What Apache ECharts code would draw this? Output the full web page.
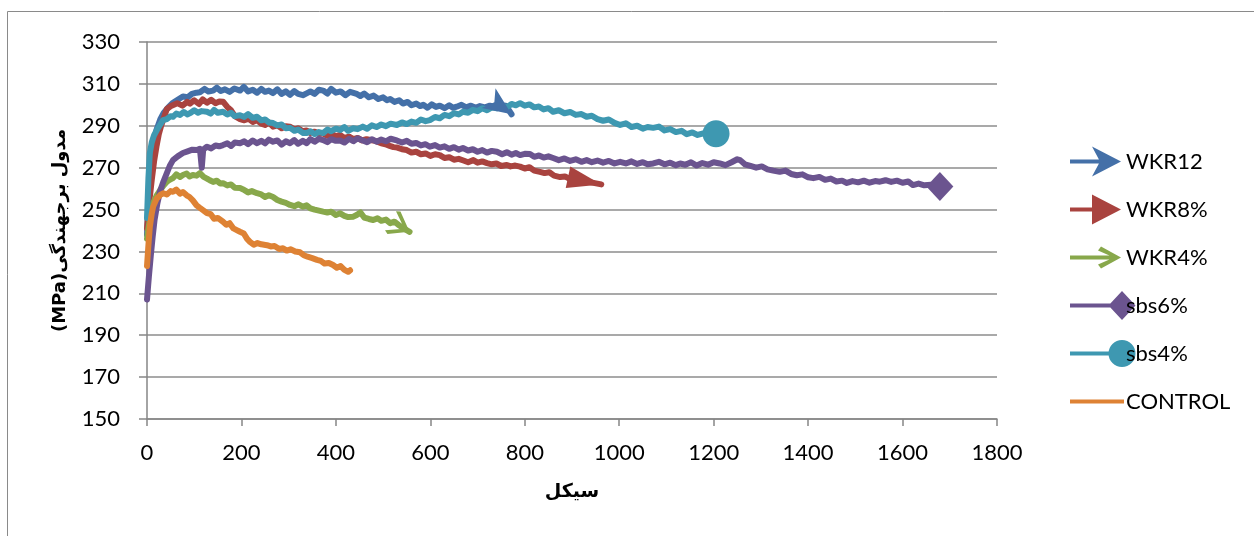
<!DOCTYPE html>
<html><head><meta charset="utf-8">
<script src="https://cdn.jsdelivr.net/npm/echarts@6/dist/echarts.min.js"></script>
<style>html,body{margin:0;padding:0;background:#fff}#c{width:1254px;height:536px}</style>
</head><body><div id="c"></div>
<script>
const seriesNames = ['WKR12', 'WKR8%', 'WKR4%', 'sbs6%', 'sbs4%', 'CONTROL'];
const xTickLabels = ['0','200','400','600','800','1000','1200','1400','1600','1800'];
const yTickLabels = ['150','170','190','210','230','250','270','290','310','330'];
const xTitle = 'سیکل';
const yTitle = '(MPa)مدول برجهندگی';

const wkr12 = [[0,238],[4,258],[8,272],[14,282],[20,288],[28,293],[35,296],[45,298.8],[55,301],[65,302.4],[76,304],[86,303.6],[95,305.2],[105,305.8],[112,306],[122,307.6],[130,306.4],[140,306.8],[148,308.2],[156,306.6],[165,307.4],[175,306.2],[185,307.8],[197,306.8],[205,308.6],[214,306.4],[224,307.2],[233,305.8],[242,307.6],[250,306.2],[258,306.8],[267,305.6],[276,307.4],[285,305.2],[294,306.4],[303,304.8],[312,306.6],[320,305.2],[330,304.6],[338,305.5],[346,306.4],[355,305.2],[364,307.2],[373,306.8],[382,305.4],[390,307.6],[400,305.8],[410,306.4],[420,304.6],[430,306.2],[444,305.2],[452,304.2],[460,305.4],[470,303.6],[480,304.4],[490,302.8],[500,303.6],[508,302.2],[515,302.8],[524,301.4],[534,302.2],[542,300.6],[552,301.4],[560,299.8],[570,300.6],[578,299.4],[585,300],[594,298.6],[603,300.2],[612,299],[620,299.6],[630,298.4],[640,299.8],[648,298.6],[656,299.1],[666,300],[676,298.8],[686,299.6],[696,298.6],[705,299.4],[716,298.8],[726,299.6],[736,299],[748,299.8],[760,299.6],[772,295.5]];

const wkr8 = [[0,241],[4,252],[10,264],[15,273],[20,280],[25,286],[30,290],[36,294],[42,298],[52,299.6],[64,300.8],[75,299.6],[85,301.4],[91,300.6],[100,302.2],[110,300.4],[118,302.6],[127,301],[136,302.4],[145,300.8],[153,301.6],[161,301.5],[170,299],[178,297.4],[186,294.6],[197,293.2],[206,292.6],[215,293.4],[224,291.8],[233,292.7],[242,291],[250,290.4],[258,291.6],[267,289.6],[276,290.2],[285,288.8],[294,289.8],[303,289.6],[312,288.2],[320,288.8],[330,287.4],[338,287.8],[346,286.6],[355,287.2],[364,286],[373,286.4],[382,285.2],[390,286.2],[400,285],[409,285.6],[418,284.2],[428,284.8],[437,283.6],[446,284.2],[455,283],[465,283.6],[479,283],[488,282.4],[496,281.6],[505,281.2],[514,280.4],[522,279.8],[530,279.6],[540,278.8],[550,278.4],[560,277.2],[570,277.6],[580,276.4],[590,276.8],[600,275.6],[610,276.4],[620,276],[630,274.6],[640,275],[650,273.8],[660,274.2],[670,273.4],[680,272.6],[691,273.6],[700,272.4],[710,273],[720,272.2],[730,271.6],[740,272],[750,270.8],[762,271.3],[770,270.6],[780,271],[790,270.5],[800,269.6],[810,270.2],[820,268.6],[832,268],[842,267.4],[852,267.8],[862,266.2],[875,265.5],[885,265.8],[895,264.6],[910,264.2],[925,263.6],[940,263],[962,262]];

const wkr4 = [[0,236],[3,241],[6,245],[10,250],[13,253],[20,256.5],[28,259.3],[35,261.5],[42,263.3],[48,264.2],[55,265],[62,266.8],[70,265.6],[76,266.5],[84,267.2],[90,265.8],[97,266.5],[105,266.2],[112,267.4],[120,265.6],[127,264.8],[133,264],[140,263.2],[148,263.8],[155,262.4],[161,262.6],[170,261.5],[178,262],[186,260.4],[197,260.3],[205,259.5],[214,258.2],[222,258.8],[233,257.8],[242,257.2],[250,256],[258,256.8],[267,256],[276,254.6],[285,253.8],[294,253.2],[303,252.2],[312,251.6],[320,252.5],[330,251.4],[338,252],[346,250.6],[355,250],[364,249.5],[373,249],[382,248.6],[390,249],[400,247.4],[409,248.2],[418,247],[426,246.4],[437,246.6],[444,247.4],[452,248.6],[460,246.2],[470,245.5],[479,245],[488,245.8],[496,244.6],[506,245.2],[515,243.5],[524,244.2],[532,242.8],[540,241.6],[548,240.4],[556,239.4]];

const sbs6 = [[0,207],[4,218],[8,228],[12,237],[16,245],[22,253],[28,259],[35,263.5],[42,267.4],[48,270.8],[55,273.6],[65,275.4],[76,277],[86,277.8],[96,278.6],[106,278.4],[112,279],[116,270],[119,278.6],[127,280],[136,279.2],[145,280.6],[153,280.2],[161,280.8],[170,281.6],[178,280.4],[186,282],[197,281.7],[206,282.6],[214,281.2],[224,283],[233,281.7],[242,282.8],[250,281.6],[258,283.4],[267,282.4],[276,283],[285,281],[294,282.6],[303,281.7],[312,283.2],[320,281.4],[330,282.8],[338,281.7],[346,283.6],[355,282.4],[364,283.8],[373,283.2],[382,282.2],[390,283.6],[400,282.8],[409,283],[418,282],[428,283.8],[437,282.6],[446,284],[457,283],[466,282.2],[476,283.6],[486,282.4],[496,283.4],[506,282.6],[516,283.8],[529,283],[540,282],[550,282.8],[560,281.4],[570,281.8],[580,280.6],[590,281.2],[599,280],[610,280.8],[620,279.6],[630,280.2],[640,279],[650,279.8],[660,278.6],[669,279.4],[680,278.2],[690,278.8],[700,277.6],[710,278.4],[720,277.2],[730,278],[741,277.6],[752,276.4],[762,277.4],[772,276.2],[781,277],[790,276],[800,276.6],[811,276.5],[820,275.2],[830,275.8],[840,274.8],[850,275.4],[860,274.6],[872,273.6],[884,274.4],[896,273.2],[908,274],[920,272.8],[931,273.6],[942,272.6],[954,273.4],[966,272.4],[978,273.2],[990,272],[1002,272.8],[1014,272],[1026,273],[1038,271.8],[1050,272.6],[1060,271.6],[1072,272],[1084,272.8],[1096,271.6],[1108,272.4],[1120,271.2],[1129,272],[1140,271.4],[1152,272.6],[1164,271],[1176,272.2],[1188,271.4],[1200,272.6],[1213,272],[1225,271.2],[1238,272.6],[1250,274],[1256,273.6],[1266,271.6],[1278,270.8],[1290,270],[1302,270.6],[1314,269.2],[1326,268.6],[1340,268],[1352,268.6],[1364,267],[1376,266.4],[1388,266.8],[1400,265.4],[1411,265],[1424,265.6],[1436,264.2],[1448,264.8],[1460,263.4],[1472,263.8],[1482,262.7],[1494,263.6],[1506,263],[1518,263.8],[1530,262.8],[1542,263.6],[1552,263.3],[1564,264],[1576,263.2],[1588,263.8],[1600,262.8],[1612,263.4],[1622,261.7],[1634,262.4],[1646,261.6],[1660,261.8],[1679,261]];

const sbs4 = [[0,246],[3,265],[6,277],[10,282],[15,285.5],[21,288],[28,290.6],[34,292.7],[42,293.2],[50,294.6],[55,294.3],[62,295.8],[70,295.2],[78,296.6],[86,295.4],[91,296],[100,297.4],[108,296.2],[116,297],[127,296.7],[135,295.8],[142,297.6],[150,296.2],[161,296.7],[170,295.4],[178,296.2],[186,294.6],[197,295],[206,294.2],[214,295.6],[224,293.8],[233,294.3],[242,292.6],[250,293],[258,291.6],[267,291.3],[276,290.2],[285,290.6],[294,288.8],[303,289],[312,287.6],[320,288.2],[330,286.6],[338,286.5],[346,287.4],[355,286],[364,287],[373,286.5],[382,288.2],[390,287.4],[400,288.6],[409,288],[418,289.4],[426,287.6],[436,288.8],[446,288.4],[457,289.6],[466,288.6],[476,290.2],[486,289.4],[496,290.6],[506,289.8],[516,291],[529,290.4],[540,291.6],[550,290.8],[560,292],[570,291.4],[580,293],[590,292.2],[599,292.7],[610,294.2],[620,293.6],[630,295.2],[640,294.6],[650,296],[660,295.4],[669,296.7],[680,296.2],[690,297.6],[700,297],[710,298.4],[720,297.4],[730,298.8],[741,298.3],[752,299.6],[762,298.8],[772,300.4],[781,299.8],[790,300.8],[800,299.6],[810,300.2],[820,298.8],[830,299.2],[840,297.8],[850,298.4],[860,296.7],[872,297.4],[884,296],[896,296.6],[908,295.2],[920,295.6],[931,294.3],[942,294.8],[954,293.2],[966,292.4],[978,293],[990,291.4],[1002,290.4],[1014,291.2],[1026,289.4],[1038,290],[1050,288.6],[1060,289.4],[1072,289],[1084,289.6],[1096,287.8],[1108,288.4],[1120,287],[1132,287.6],[1143,286],[1155,286.8],[1166,285.6],[1178,286.4],[1190,285.8],[1205,286.2]];

const control = [[0,223],[3,233],[6,241.8],[10,248],[13,251.4],[20,255],[28,257],[35,257.8],[42,257.2],[50,258.8],[55,258.5],[62,259.5],[70,257.6],[76,258.4],[84,256.8],[90,256],[97,254.4],[105,252],[112,250.8],[120,249.5],[127,248.3],[135,247.8],[142,245.6],[150,246],[161,244.2],[168,242.8],[175,243.5],[183,241],[190,240.2],[197,239.4],[205,238.6],[212,236],[218,234.6],[226,233.2],[234,234],[242,233.4],[254,233],[262,232.4],[270,232.6],[280,231.2],[288,231.5],[296,230.4],[304,231],[314,230],[324,229.6],[332,228.2],[340,227.5],[350,226.8],[360,226],[368,225.5],[376,224.2],[385,224.5],[394,223.5],[402,222.2],[410,223],[418,221.2],[426,220.3],[430,221]];

const seriesData = [wkr12, wkr8, wkr4, sbs6, sbs4, control];
const colors = ['#4470A8', '#A9433F', '#88A84B', '#6B548F', '#3E98B1', '#DE8234'];

// end markers: [symbol, width, height, downward angle]
const endMarkers = [
  ['path://M0,0L28,12L0,24L7,12Z', 28, 24, 35],
  ['path://M0,0L34,11L0,22Z', 34, 22, 12],
  ['path://M0,2L4,0L22,13L4,26L0,24L16,13Z', 22, 26, 30],
  ['diamond', 27, 29, null],
  ['circle', 27, 27, null],
  null
];

const anchors = 'M0,0L0.01,0L0,0.01Z M67,30L66.99,30L67,29.99Z ';
const legendIcons = [
  'path://' + anchors + 'M1,13L34,13L34,17L1,17Z M23,0L52,15L23,30L31,15Z',
  'path://' + anchors + 'M1,13L30,13L30,17L1,17Z M23,0L52,15L23,30Z',
  'path://' + anchors + 'M1,13L47,13L47,17L1,17Z M29,8L32,4L52,15L32,26L29,22L45,15Z',
  'path://' + anchors + 'M1,13L46,13L46,17L1,17Z M53,0.5L66.5,15L53,29.5L39.5,15Z',
  'path://' + anchors + 'M1,13L46,13L46,17L1,17Z M39.5,15A13.5,13.5 0 1 1 66.5,15A13.5,13.5 0 1 1 39.5,15Z',
  'path://' + anchors + 'M1,13L55,13L55,17L1,17Z'
];

function buildData(arr, marker) {
  return arr.map((p, i) => {
    if (i === arr.length - 1 && marker) {
      const [sym, w, h, ang] = marker;
      const item = { value: p, symbol: sym, symbolSize: [w, h] };
      if (ang !== null) {
        const r = ang * Math.PI / 180;
        item.symbolRotate = -ang;
        item.symbolOffset = [-(w / 2) * Math.cos(r), -(w / 2) * Math.sin(r)];
      }
      return item;
    }
    return { value: p, symbol: 'none' };
  });
}

const chart = echarts.init(document.getElementById('c'), null, { renderer: 'canvas' });
const tickFont = 'Lato';
chart.setOption({
  animation: false,
  backgroundColor: '#fff',
  color: colors,
  graphic: [{
    type: 'rect', silent: true,
    shape: { x: 7.5, y: 11.5, width: 1400, height: 800 },
    style: { fill: 'none', stroke: '#8a8a8a', lineWidth: 1 }
  }],
  grid: { left: 147, top: 42, width: 850, height: 377, outerBoundsMode: 'none', containLabel: false },
  legend: {
    orient: 'vertical', left: 1064, top: 141.5,
    itemWidth: 67, itemHeight: 30, itemGap: 18,
    selectedMode: false,
    textStyle: { fontFamily: tickFont, fontSize: 22, color: '#000', padding: [0, 0, 0, -15] },
    data: seriesNames.map((n, i) => ({ name: n, icon: legendIcons[i] }))
  },
  xAxis: {
    type: 'value', min: 0, max: 1800, interval: 200,
    name: xTitle, nameLocation: 'middle', nameGap: 64,
    nameTextStyle: { fontFamily: 'DejaVu Sans', fontWeight: 'bold', fontSize: 19, color: '#000' },
    axisLine: { show: true, lineStyle: { color: '#868686', width: 1.5 } },
    axisTick: { show: true, length: 7, lineStyle: { color: '#868686', width: 1.5 } },
    axisLabel: { margin: 23, fontFamily: tickFont, fontSize: 22, color: '#000',
      formatter: (v) => xTickLabels[Math.round(v / 200)] },
    splitLine: { show: false }
  },
  yAxis: {
    type: 'value', min: 150, max: 330, interval: 20,
    name: yTitle, nameLocation: 'middle', nameGap: 78, nameRotate: 90,
    nameTextStyle: { fontFamily: 'DejaVu Sans', fontWeight: 'bold', fontSize: 18, color: '#000' },
    axisLine: { show: true, lineStyle: { color: '#868686', width: 1.5 } },
    axisTick: { show: true, length: 8, lineStyle: { color: '#868686', width: 1.5 } },
    axisLabel: { margin: 27, fontFamily: tickFont, fontSize: 22, color: '#000',
      formatter: (v) => yTickLabels[Math.round((v - 150) / 20)] },
    splitLine: { show: true, lineStyle: { color: '#8c8c8c', width: 1.6 } }
  },
  series: seriesNames.map((n, i) => ({
    name: n, type: 'line',
    symbol: 'none', showSymbol: true, silent: true,
    lineStyle: { width: 6, color: colors[i], cap: 'round', join: 'round' },
    itemStyle: { color: colors[i] },
    emphasis: { disabled: true },
    data: buildData(seriesData[i], endMarkers[i])
  }))
});
</script></body></html>
